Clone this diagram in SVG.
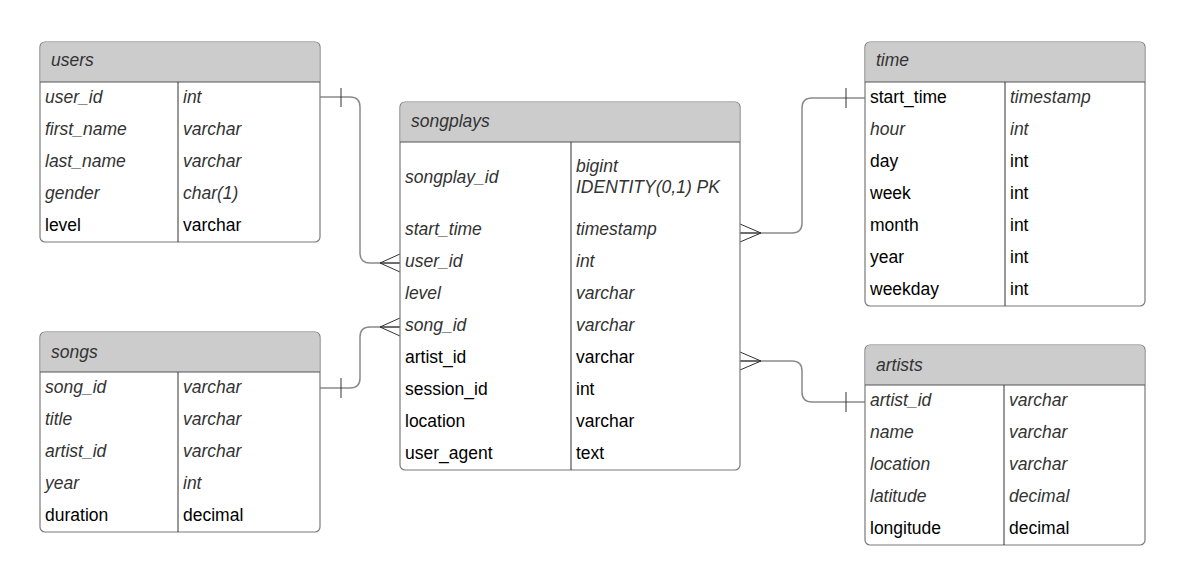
<svg xmlns="http://www.w3.org/2000/svg" width="1193" height="581" viewBox="0 0 1193 581">
<style>
.box{fill:#fff;stroke:#7a7a7a;stroke-width:1.2}
.hdr{fill:#cccccc;stroke:none}
.hl{stroke:#555;stroke-width:1}
.col{stroke:#333;stroke-width:1}
text{font-family:"Liberation Sans",Arial,sans-serif;font-size:17.5px}
.i{font-style:italic;fill:#333}
.n{fill:#000}
.conn{fill:none;stroke:#8a8a8a;stroke-width:1.5}
.mk{fill:none;stroke:#333;stroke-width:1}
</style>
<rect width="1193" height="581" fill="#fff"/>
<g id="connectors">
  <path class="conn" d="M320,97 H350 Q360,97 360,107 V253 Q360,263 370,263 H400"/>
  <path class="mk" d="M341,88 V107 M380,263 L400,254 M380,263 L400,272 M380,263 H400"/>
  <path class="conn" d="M320,388 H350 Q360,388 360,378 V337 Q360,327 370,327 H400"/>
  <path class="mk" d="M341,378 V398 M380,327 L400,318 M380,327 L400,336 M380,327 H400"/>
  <path class="conn" d="M740,233 H792 Q802,233 802,223 V108 Q802,98 812,98 H865"/>
  <path class="mk" d="M846,88 V108 M761,233 L740,224 M761,233 L740,242 M761,233 H740"/>
  <path class="conn" d="M740,361 H792 Q802,361 802,371 V392 Q802,402 812,402 H865"/>
  <path class="mk" d="M846,392 V412 M761,361 L740,352 M761,361 L740,370 M761,361 H740"/>
</g>
<g id="users">
  <rect class="box" x="40" y="42" width="280" height="200" rx="5"/>
  <path class="hdr" d="M45,42.6 H315 Q319.4,42.6 319.4,47 V82 H40.6 V47 Q40.6,42.6 45,42.6 Z"/>
  <line class="hl" x1="40" y1="82" x2="320" y2="82"/>
  <line class="col" x1="178" y1="82" x2="178" y2="242"/>
  <text class="i" x="51" y="66">users</text>
  <text class="i" x="45" y="103">user_id</text><text class="i" x="183" y="103">int</text>
  <text class="i" x="45" y="135">first_name</text><text class="i" x="183" y="135">varchar</text>
  <text class="i" x="45" y="167">last_name</text><text class="i" x="183" y="167">varchar</text>
  <text class="i" x="45" y="199">gender</text><text class="i" x="183" y="199">char(1)</text>
  <text class="n" x="45" y="231">level</text><text class="n" x="183" y="231">varchar</text>
</g>
<g id="songs">
  <rect class="box" x="40" y="332" width="280" height="200" rx="5"/>
  <path class="hdr" d="M45,332.6 H315 Q319.4,332.6 319.4,337 V372 H40.6 V337 Q40.6,332.6 45,332.6 Z"/>
  <line class="hl" x1="40" y1="372" x2="320" y2="372"/>
  <line class="col" x1="178" y1="372" x2="178" y2="532"/>
  <text class="i" x="51" y="358">songs</text>
  <text class="i" x="45" y="393">song_id</text><text class="i" x="183" y="393">varchar</text>
  <text class="i" x="45" y="425">title</text><text class="i" x="183" y="425">varchar</text>
  <text class="i" x="45" y="457">artist_id</text><text class="i" x="183" y="457">varchar</text>
  <text class="i" x="45" y="489">year</text><text class="i" x="183" y="489">int</text>
  <text class="n" x="45" y="521">duration</text><text class="n" x="183" y="521">decimal</text>
</g>
<g id="songplays">
  <rect class="box" x="400" y="102" width="340" height="368" rx="5"/>
  <path class="hdr" d="M405,102.6 H735 Q739.4,102.6 739.4,107 V142 H400.6 V107 Q400.6,102.6 405,102.6 Z"/>
  <line class="hl" x1="400" y1="142" x2="740" y2="142"/>
  <line class="col" x1="571" y1="142" x2="571" y2="470"/>
  <text class="i" x="411" y="127">songplays</text>
  <text class="i" x="405" y="183">songplay_id</text>
  <text class="i" x="576" y="172">bigint</text>
  <text class="i" x="576" y="193">IDENTITY(0,1) PK</text>
  <text class="i" x="405" y="235">start_time</text><text class="i" x="576" y="235">timestamp</text>
  <text class="i" x="405" y="267">user_id</text><text class="i" x="576" y="267">int</text>
  <text class="i" x="405" y="299">level</text><text class="i" x="576" y="299">varchar</text>
  <text class="i" x="405" y="331">song_id</text><text class="i" x="576" y="331">varchar</text>
  <text class="n" x="405" y="363">artist_id</text><text class="n" x="576" y="363">varchar</text>
  <text class="n" x="405" y="395">session_id</text><text class="n" x="576" y="395">int</text>
  <text class="n" x="405" y="427">location</text><text class="n" x="576" y="427">varchar</text>
  <text class="n" x="405" y="459">user_agent</text><text class="n" x="576" y="459">text</text>
</g>
<g id="time">
  <rect class="box" x="865" y="42" width="280" height="264" rx="5"/>
  <path class="hdr" d="M870,42.6 H1140 Q1144.4,42.6 1144.4,47 V82 H865.6 V47 Q865.6,42.6 870,42.6 Z"/>
  <line class="hl" x1="865" y1="82" x2="1145" y2="82"/>
  <line class="col" x1="1005" y1="82" x2="1005" y2="306"/>
  <text class="i" x="876" y="66">time</text>
  <text class="n" x="870" y="103">start_time</text><text class="i" x="1010" y="103">timestamp</text>
  <text class="i" x="870" y="135">hour</text><text class="i" x="1010" y="135">int</text>
  <text class="n" x="870" y="167">day</text><text class="n" x="1010" y="167">int</text>
  <text class="n" x="870" y="199">week</text><text class="n" x="1010" y="199">int</text>
  <text class="n" x="870" y="231">month</text><text class="n" x="1010" y="231">int</text>
  <text class="n" x="870" y="263">year</text><text class="n" x="1010" y="263">int</text>
  <text class="n" x="870" y="295">weekday</text><text class="n" x="1010" y="295">int</text>
</g>
<g id="artists">
  <rect class="box" x="865" y="345" width="280" height="200" rx="5"/>
  <path class="hdr" d="M870,345.6 H1140 Q1144.4,345.6 1144.4,350 V385 H865.6 V350 Q865.6,345.6 870,345.6 Z"/>
  <line class="hl" x1="865" y1="385" x2="1145" y2="385"/>
  <line class="col" x1="1004" y1="385" x2="1004" y2="545"/>
  <text class="i" x="876" y="371">artists</text>
  <text class="i" x="870" y="406">artist_id</text><text class="i" x="1009" y="406">varchar</text>
  <text class="i" x="870" y="438">name</text><text class="i" x="1009" y="438">varchar</text>
  <text class="i" x="870" y="470">location</text><text class="i" x="1009" y="470">varchar</text>
  <text class="i" x="870" y="502">latitude</text><text class="i" x="1009" y="502">decimal</text>
  <text class="n" x="870" y="534">longitude</text><text class="n" x="1009" y="534">decimal</text>
</g>
</svg>
